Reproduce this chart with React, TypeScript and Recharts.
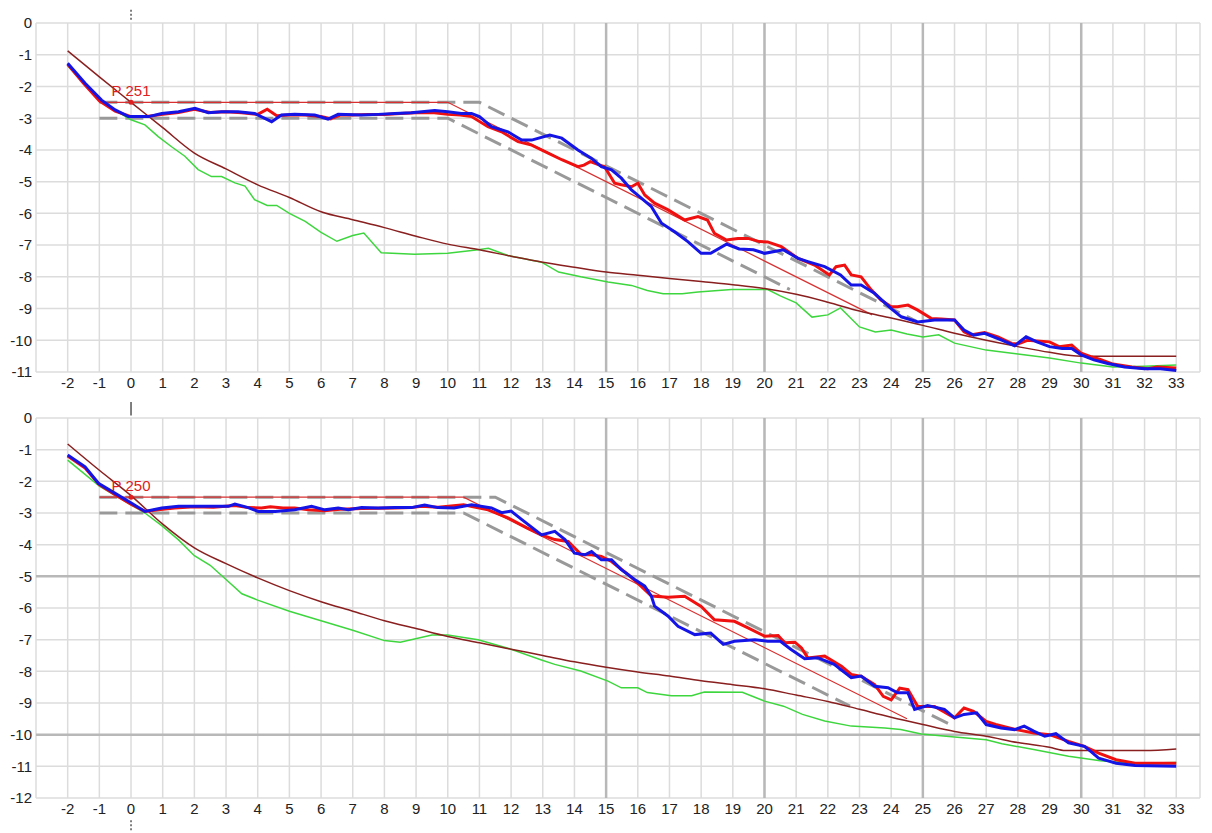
import React from 'react'
import { LineChart, Line, XAxis, YAxis, CartesianGrid, ReferenceLine, ReferenceDot } from 'recharts'

type Pt = [number, number]

const xTicks = [-2, -1, 0, 1, 2, 3, 4, 5, 6, 7, 8, 9, 10, 11, 12, 13, 14, 15, 16, 17, 18, 19, 20, 21, 22, 23, 24, 25, 26, 27, 28, 29, 30, 31, 32, 33]
const topYTicks = [0, -1, -2, -3, -4, -5, -6, -7, -8, -9, -10, -11]
const bottomYTicks = [0, -1, -2, -3, -4, -5, -6, -7, -8, -9, -10, -11, -12]
const majorX = [15, 20, 25, 30]
const bottomMajorY = [-5, -10]

// ---- upper chart (P 251) ----
const topRed: Pt[] = [
  [-2, -1.3], [-1.5, -1.9], [-1, -2.45], [-0.5, -2.78], [0, -2.95], [0.5, -2.95], [1, -2.88], [1.5, -2.82],
  [2, -2.72], [2.5, -2.82], [3, -2.8], [3.5, -2.83], [4, -2.88], [4.3, -2.72], [4.6, -2.92], [5, -2.9],
  [5.5, -2.9], [6, -2.95], [6.3, -3.02], [6.6, -2.9], [7, -2.9], [7.5, -2.88], [8, -2.88], [8.5, -2.85],
  [9, -2.83], [9.5, -2.82], [10, -2.88], [10.4, -2.9], [10.75, -2.95], [11.27, -3.27], [11.7, -3.43],
  [12.22, -3.74], [12.65, -3.85], [13.17, -4.1], [13.6, -4.31], [14.11, -4.53], [14.3, -4.48], [14.5, -4.37],
  [14.95, -4.53], [15.27, -5.05], [15.48, -5.1], [15.8, -5.16], [16, -5.05], [16.22, -5.42], [16.53, -5.68],
  [16.96, -5.89], [17.48, -6.21], [17.9, -6.1], [18.2, -6.21], [18.42, -6.63], [18.8, -6.84], [19.16, -6.79],
  [19.48, -6.79], [19.84, -6.89], [20.1, -6.9], [20.53, -7.05], [21.06, -7.42], [21.58, -7.63], [22.05, -7.94],
  [22.26, -7.68], [22.53, -7.63], [22.74, -7.94], [23.05, -8.0], [23.37, -8.41], [23.68, -8.73], [24, -8.94],
  [24.2, -8.94], [24.53, -8.89], [24.84, -9.05], [25.26, -9.31], [25.58, -9.33], [26, -9.36], [26.3, -9.73],
  [26.5, -9.83], [26.95, -9.76], [27.37, -9.89], [27.8, -10.1], [28.0, -10.12], [28.3, -10.0], [28.6, -10.02],
  [29, -10.05], [29.3, -10.2], [29.7, -10.15], [30, -10.41], [30.3, -10.52], [30.6, -10.6], [31, -10.75],
  [31.6, -10.84], [32.1, -10.9], [32.4, -10.84], [33, -10.87],
]
const topBlue: Pt[] = [
  [-2, -1.27], [-1.45, -1.9], [-0.93, -2.43], [-0.5, -2.74], [-0.08, -2.95], [0.55, -2.95], [0.97, -2.85],
  [1.5, -2.8], [2.02, -2.69], [2.44, -2.83], [2.86, -2.8], [3.38, -2.8], [3.9, -2.85], [4.44, -3.11],
  [4.75, -2.9], [5.17, -2.88], [5.8, -2.9], [6.22, -3.03], [6.54, -2.88], [7.28, -2.9], [7.8, -2.88],
  [8.33, -2.85], [8.85, -2.83], [9.59, -2.76], [10, -2.8], [10.43, -2.85], [10.75, -2.85], [11.0, -2.95],
  [11.38, -3.27], [11.9, -3.43], [12.33, -3.69], [12.65, -3.69], [13.22, -3.53], [13.6, -3.63], [14.11, -4.0],
  [14.53, -4.26], [14.85, -4.53], [15.17, -4.63], [15.48, -4.89], [15.8, -5.26], [16.11, -5.52], [16.43, -5.79],
  [16.75, -6.31], [17.16, -6.58], [17.58, -6.89], [18, -7.26], [18.3, -7.26], [18.8, -6.97], [19.2, -7.12],
  [19.65, -7.15], [20, -7.26], [20.6, -7.15], [21.06, -7.42], [21.37, -7.52], [21.9, -7.68], [22.4, -7.94],
  [22.74, -8.26], [23.05, -8.26], [23.47, -8.52], [24, -9.0], [24.32, -9.26], [24.84, -9.42], [25.37, -9.36],
  [26, -9.36], [26.3, -9.68], [26.6, -9.84], [26.95, -9.78], [27.47, -9.99], [27.9, -10.17], [28.26, -9.89],
  [28.6, -10.05], [29, -10.2], [29.4, -10.26], [29.7, -10.26], [30, -10.46], [30.4, -10.62], [30.84, -10.73],
  [31.37, -10.84], [32, -10.9], [32.5, -10.9], [33, -10.95],
]
const topGreen: Pt[] = [
  [-2, -1.35], [-1.45, -1.95], [-1, -2.45], [-0.5, -2.75], [0, -3.05], [0.44, -3.21], [0.86, -3.58],
  [1.28, -3.9], [1.7, -4.2], [2.12, -4.62], [2.54, -4.84], [2.86, -4.84], [3.28, -5.04], [3.6, -5.14],
  [3.9, -5.57], [4.3, -5.75], [4.6, -5.75], [5, -6.0], [5.5, -6.25], [6, -6.6], [6.5, -6.88], [7, -6.7],
  [7.35, -6.62], [7.9, -7.24], [8.95, -7.29], [10, -7.26], [10.96, -7.15], [11.28, -7.1], [11.9, -7.33],
  [12.96, -7.54], [13.5, -7.85], [14.2, -8.0], [15.06, -8.16], [15.8, -8.27], [16.3, -8.43], [16.8, -8.53],
  [17.4, -8.53], [17.9, -8.48], [18.96, -8.4], [19.7, -8.4], [20.1, -8.4], [20.5, -8.6], [21, -8.82],
  [21.5, -9.27], [22.0, -9.2], [22.4, -8.98], [23, -9.58], [23.5, -9.74], [24, -9.68], [24.5, -9.8],
  [25, -9.9], [25.5, -9.83], [26, -10.09], [27, -10.31], [28, -10.43], [29, -10.56], [30, -10.72],
  [31, -10.84], [32, -10.82], [33, -10.78],
]
const topBrown: Pt[] = [
  [-2, -0.88], [-1, -1.7], [0, -2.5], [1, -3.3], [2, -4.1], [3, -4.6], [4, -5.1], [5, -5.5], [6, -5.95],
  [7, -6.2], [8, -6.45], [9, -6.72], [10, -6.97], [11, -7.15], [12, -7.35], [13, -7.54], [14, -7.7],
  [15, -7.85], [16, -7.95], [17, -8.05], [18, -8.15], [19, -8.25], [20, -8.37], [21, -8.55], [22, -8.8],
  [23, -9.08], [24, -9.3], [25, -9.53], [26, -9.78], [27, -10.0], [28, -10.2], [29, -10.38], [30, -10.5],
  [31, -10.5], [33, -10.5],
]
const topTarget: Pt[] = [[-1, -2.5], [10, -2.5], [23.4, -9.2]]
const topUpper: Pt[] = [[-1, -2.5], [11, -2.5], [24.8, -9.4]]
const topLower: Pt[] = [[-1, -3], [10, -3], [20.8, -8.4]]

// ---- lower chart (P 250) ----
const bottomRed: Pt[] = [
  [-2, -1.2], [-1.45, -1.58], [-1, -2.1], [-0.5, -2.42], [0, -2.72], [0.44, -2.95], [0.86, -2.9],
  [1.38, -2.84], [2, -2.8], [2.6, -2.82], [3.28, -2.76], [3.7, -2.83], [4.12, -2.84], [4.4, -2.8],
  [4.8, -2.84], [5.17, -2.84], [5.6, -2.9], [6.1, -2.93], [6.6, -2.88], [7.3, -2.86], [7.8, -2.85],
  [8.33, -2.84], [8.85, -2.83], [9.17, -2.79], [9.7, -2.82], [10.5, -2.74], [11.27, -2.9], [11.9, -3.15],
  [12.5, -3.47], [12.96, -3.69], [13.38, -3.84], [13.8, -3.9], [14.22, -4.32], [14.54, -4.32], [14.85, -4.37],
  [15.17, -4.53], [15.7, -4.95], [16.1, -5.31], [16.43, -5.62], [16.96, -5.66], [17.48, -5.63], [18, -5.95],
  [18.42, -6.37], [19.05, -6.42], [19.48, -6.63], [20, -6.89], [20.43, -6.87], [20.64, -7.1], [20.96, -7.08],
  [21.17, -7.26], [21.37, -7.58], [21.9, -7.52], [22.43, -7.84], [22.74, -8.1], [23.06, -8.16], [23.48, -8.42],
  [23.75, -8.79], [24, -8.9], [24.27, -8.53], [24.53, -8.58], [24.84, -9.11], [25.37, -9.11], [26, -9.47],
  [26.3, -9.16], [26.6, -9.26], [27, -9.58], [27.3, -9.68], [27.95, -9.84], [28.5, -9.95], [29, -10.0],
  [29.6, -10.21], [30.1, -10.37], [30.55, -10.58], [31.1, -10.79], [31.7, -10.9], [33, -10.9],
]
const bottomBlue: Pt[] = [
  [-2, -1.17], [-1.45, -1.54], [-1.03, -2.06], [-0.5, -2.38], [0.02, -2.69], [0.44, -2.95], [0.97, -2.84],
  [1.5, -2.79], [2.34, -2.79], [3.07, -2.79], [3.28, -2.72], [3.7, -2.83], [4.02, -2.95], [4.55, -2.95],
  [5.17, -2.9], [5.7, -2.79], [6.12, -2.9], [6.54, -2.84], [6.86, -2.9], [7.28, -2.83], [7.8, -2.84],
  [8.33, -2.83], [8.85, -2.83], [9.27, -2.75], [9.69, -2.83], [10.2, -2.84], [10.75, -2.74], [11.38, -2.84],
  [11.7, -2.99], [12.0, -2.94], [12.33, -3.2], [12.96, -3.69], [13.38, -3.58], [13.7, -3.84], [14.0, -4.27],
  [14.33, -4.32], [14.54, -4.22], [14.85, -4.48], [15.17, -4.48], [15.48, -4.79], [15.9, -5.1], [16.22, -5.31],
  [16.43, -5.63], [16.53, -5.94], [16.96, -6.26], [17.27, -6.58], [17.8, -6.84], [18.3, -6.79], [18.7, -7.15],
  [19.05, -7.05], [19.7, -7.0], [20.1, -7.05], [20.5, -7.05], [20.84, -7.31], [21.27, -7.6], [21.68, -7.57],
  [22.2, -7.78], [22.74, -8.2], [23.05, -8.15], [23.48, -8.47], [23.9, -8.52], [24.2, -8.68], [24.53, -8.68],
  [24.74, -9.2], [25.15, -9.08], [25.68, -9.2], [26, -9.47], [26.3, -9.36], [26.7, -9.31], [27, -9.68],
  [27.47, -9.79], [27.9, -9.84], [28.2, -9.73], [28.5, -9.89], [28.85, -10.05], [29.2, -9.97], [29.6, -10.26],
  [30.1, -10.37], [30.3, -10.53], [30.55, -10.74], [31.1, -10.9], [31.7, -10.97], [33, -11.0],
]
const bottomGreen: Pt[] = [
  [-2, -1.33], [-1, -2.15], [0, -2.74], [0.44, -3.0], [0.97, -3.4], [1.5, -3.85], [2, -4.35], [2.5, -4.65],
  [3, -5.1], [3.5, -5.55], [4, -5.75], [5, -6.1], [6, -6.4], [7, -6.7], [8, -7.03], [8.5, -7.08],
  [9.5, -6.85], [10, -6.85], [10.96, -7.0], [11.9, -7.27], [12.96, -7.64], [13.38, -7.78], [14.2, -7.99],
  [15.06, -8.31], [15.48, -8.52], [16, -8.52], [16.3, -8.67], [17.06, -8.77], [17.7, -8.77], [18.1, -8.65],
  [19.3, -8.66], [20, -8.94], [20.6, -9.1], [21.2, -9.36], [21.9, -9.57], [22.74, -9.73], [23.8, -9.79],
  [24.3, -9.84], [24.95, -9.98], [26, -10.07], [27, -10.16], [27.5, -10.29], [28.5, -10.47], [29.6, -10.68],
  [30.6, -10.82], [31.7, -10.9], [33, -10.88],
]
const bottomBrown: Pt[] = [
  [-2, -0.82], [-1, -1.65], [0, -2.45], [1, -3.35], [2, -4.1], [3, -4.6], [4, -5.05], [5, -5.45], [6, -5.8],
  [7, -6.1], [8, -6.4], [9, -6.65], [10, -6.9], [11, -7.1], [12, -7.3], [13, -7.5], [14, -7.7], [15, -7.87],
  [16, -8.02], [17, -8.15], [18, -8.3], [19, -8.42], [20, -8.55], [21, -8.75], [22, -8.95], [23, -9.2],
  [24, -9.45], [25, -9.68], [26, -9.9], [27, -10.05], [28, -10.25], [29, -10.4], [29.5, -10.5], [32, -10.5],
  [33, -10.45],
]
const bottomTarget: Pt[] = [[-1, -2.5], [10.5, -2.5], [24.5, -9.5]]
const bottomUpper: Pt[] = [[-1, -2.5], [11.5, -2.5], [26, -9.75]]
const bottomLower: Pt[] = [[-1, -3], [10.5, -3], [22.7, -9.1]]

const toRows = (pts: Pt[]) => pts.map(([x, y]) => ({ x, y }))

const font = { fontFamily: '"Liberation Sans", Arial, sans-serif', fontSize: 15, fill: '#222' }

interface PanelProps {
  red: Pt[]; blue: Pt[]; green: Pt[]; brown: Pt[]
  target: Pt[]; upper: Pt[]; lower: Pt[]
  yTicks: number[]; majorY: number[]; label: string
  height: number; margin: { top: number; right: number; left: number; bottom: number }
  markers: { from: number; to: number; dash?: string }[]
}

const Panel = (p: PanelProps) => {
  const yMin = p.yTicks[p.yTicks.length - 1]
  return (
    <LineChart width={1212} height={p.height} margin={p.margin}>
      <CartesianGrid stroke="#dcdcdc" strokeWidth={1.5} />
      {majorX.map(v => <ReferenceLine key={'mx' + v} x={v} stroke="#b8b8b8" strokeWidth={2.5} />)}
      {p.majorY.map(v => <ReferenceLine key={'my' + v} y={v} stroke="#b8b8b8" strokeWidth={2.5} />)}
      <XAxis type="number" dataKey="x" domain={[-3, 33.75]} ticks={xTicks} interval={0}
        axisLine={false} tickLine={false} tickSize={0} tickMargin={5} height={30} tick={font} allowDataOverflow />
      <YAxis type="number" dataKey="y" domain={[yMin, 0]} ticks={p.yTicks} interval={0}
        axisLine={false} tickLine={false} tickSize={0} tickMargin={4} width={36} tick={font} allowDataOverflow />
      {p.markers.map((m, i) => (
        <ReferenceLine key={'mk' + i} segment={[{ x: 0, y: m.from }, { x: 0, y: m.to }]} ifOverflow="visible"
          stroke="#555" strokeWidth={1.5} strokeDasharray={m.dash} />
      ))}
      <Line data={toRows(p.upper)} dataKey="y" type="linear" stroke="#999" strokeWidth={3} strokeDasharray="18 8" dot={false} isAnimationActive={false} />
      <Line data={toRows(p.lower)} dataKey="y" type="linear" stroke="#999" strokeWidth={3} strokeDasharray="18 8" dot={false} isAnimationActive={false} />
      <Line data={toRows(p.target)} dataKey="y" type="linear" stroke="#d83030" strokeWidth={1.2} dot={false} isAnimationActive={false} />
      <Line data={toRows(p.green)} dataKey="y" type="linear" stroke="#3ed63e" strokeWidth={1.5} dot={false} isAnimationActive={false} />
      <Line data={toRows(p.brown)} dataKey="y" type="monotone" stroke="#8a1f1f" strokeWidth={1.5} dot={false} isAnimationActive={false} />
      <Line data={toRows(p.red)} dataKey="y" type="linear" stroke="#f01010" strokeWidth={3} dot={false} isAnimationActive={false} />
      <Line data={toRows(p.blue)} dataKey="y" type="linear" stroke="#1414e6" strokeWidth={3} dot={false} isAnimationActive={false} />
      <ReferenceDot x={0} y={-2.5} r={2.5} fill="#e02020" stroke="none"
        label={{ value: p.label, position: 'top', offset: 4, fill: '#e02020', fontSize: 15, fontFamily: '"Liberation Sans", Arial, sans-serif' }} />
    </LineChart>
  )
}

export default function App() {
  return (
    <div style={{ position: 'absolute', top: 0, left: 0, width: 1212, height: 833, background: '#fff' }}>
      <Panel red={topRed} blue={topBlue} green={topGreen} brown={topBrown}
        target={topTarget} upper={topUpper} lower={topLower}
        yTicks={topYTicks} majorY={[]} label="P 251" height={402}
        margin={{ top: 23, right: 12, left: 0, bottom: 0 }}
        markers={[{ from: 0.42, to: 0.05, dash: '2 2' }]} />
      <Panel red={bottomRed} blue={bottomBlue} green={bottomGreen} brown={bottomBrown}
        target={bottomTarget} upper={bottomUpper} lower={bottomLower}
        yTicks={bottomYTicks} majorY={bottomMajorY} label="P 250" height={431}
        margin={{ top: 16, right: 12, left: 0, bottom: 5 }}
        markers={[{ from: 0.75, to: 0.55, dash: '2 2' }, { from: 0.55, to: 0.08 }, { from: -12.7, to: -13.05, dash: '2 2' }]} />
    </div>
  )
}
